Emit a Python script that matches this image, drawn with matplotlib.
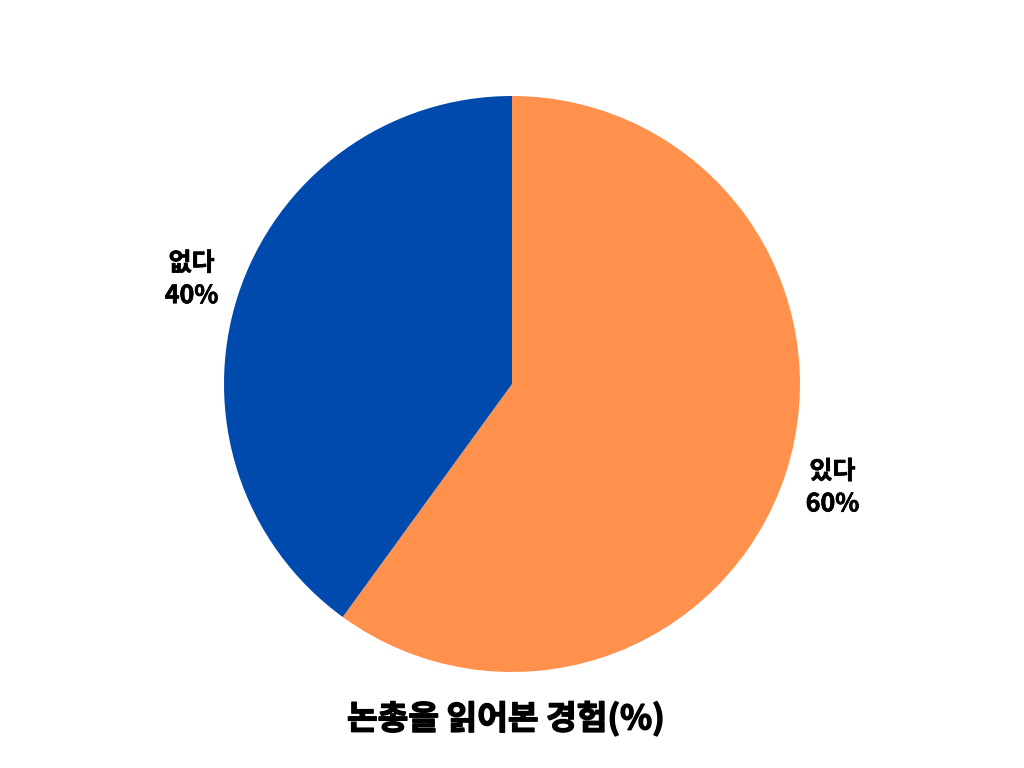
import matplotlib

matplotlib.use("Agg")
import matplotlib.pyplot as plt
import matplotlib.patheffects as pe

# data
categories = ["있다", "없다"]
values = [60, 40]
colors = ["#FF914D", "#004AAD"]
title = "논총을 읽어본 경험(%)"

plt.rcParams["font.family"] = ["Noto Sans CJK KR", "DejaVu Sans"]

fig = plt.figure(figsize=(10.24, 7.68), dpi=100)
ax = fig.add_axes([0.21875, 0.125, 0.5625, 0.75])

labels = [f"{c}\n{v}%" for c, v in zip(categories, values)]
wedges, texts = ax.pie(
    values,
    colors=colors,
    labels=labels,
    startangle=90,
    counterclock=False,
    labeldistance=1.17,
    radius=1.0,
    textprops=dict(fontsize=18, fontweight="bold", color="black", linespacing=1.45),
)
# slightly heavier look, like the original's black-weight font
for t in texts:
    t.set_ha("center")
    t.set_va("center")
    t.set_path_effects([pe.withStroke(linewidth=0.5, foreground="black")])

ax.set_xlim(-1, 1)
ax.set_ylim(-1, 1)
ax.set_aspect("auto")

fig.text(0.494, 0.064, title, ha="center", va="center", fontsize=24, fontweight="bold",
         path_effects=[pe.withStroke(linewidth=1.0, foreground="black")])

fig.savefig("out.png", dpi=100)
